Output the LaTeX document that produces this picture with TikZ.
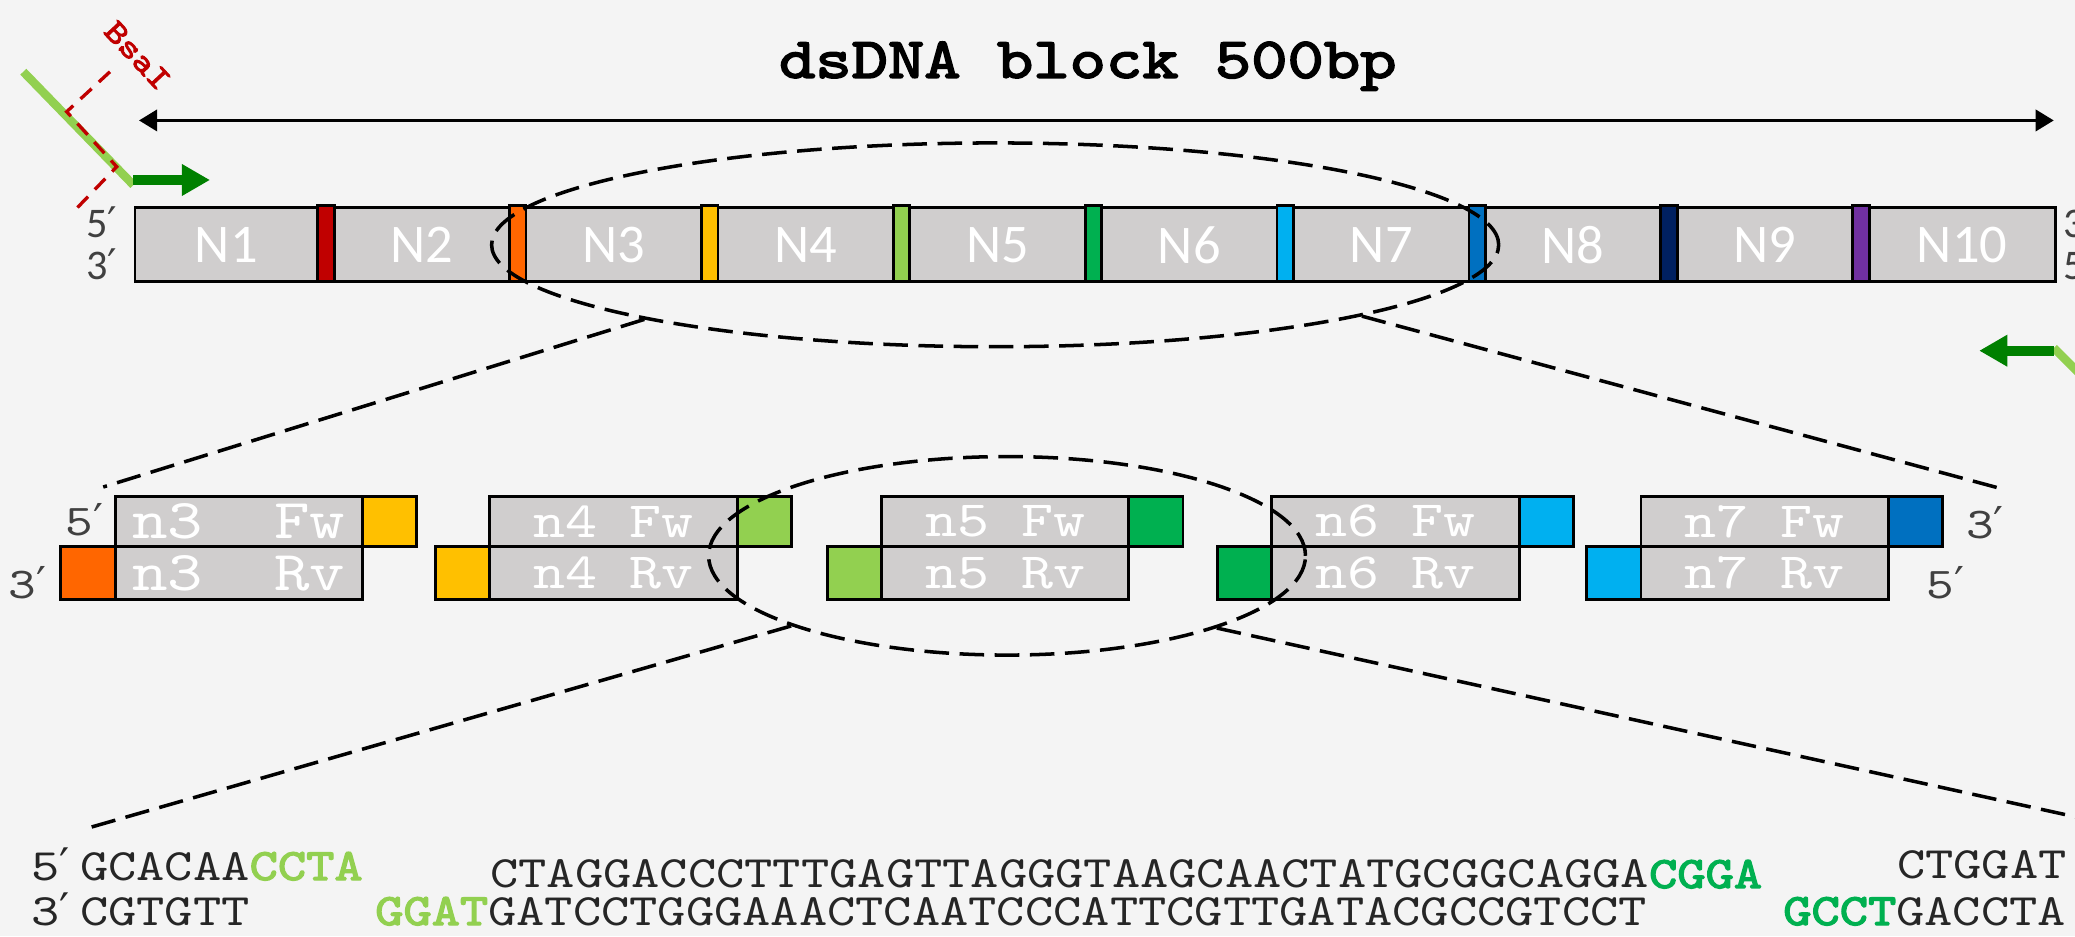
\documentclass[tikz,border=0pt]{standalone}
\usepackage{fontspec}
\setmainfont{Carlito}
\newfontfamily\monof{lmmono10-regular}[Extension=.otf,FakeStretch=1.2,BoldFont=lmmono10-regular,BoldFeatures={FakeBold=3}]
\newfontfamily\primefont{DejaVu Sans}
\newcommand\prm{{\primefont ′}}
\usetikzlibrary{arrows.meta,shapes.geometric}
\definecolor{bg}{HTML}{F4F4F4}
\definecolor{cell}{HTML}{D0CECE}
\definecolor{cred}{HTML}{C00000}
\definecolor{corange}{HTML}{FF6600}
\definecolor{cyellow}{HTML}{FFC000}
\definecolor{clgreen}{HTML}{92D050}
\definecolor{cgreen}{HTML}{00B050}
\definecolor{clblue}{HTML}{00B0F0}
\definecolor{cblue}{HTML}{0070C0}
\definecolor{cnavy}{HTML}{002060}
\definecolor{cpurple}{HTML}{7030A0}
\definecolor{dgreen}{HTML}{008000}
\definecolor{labgray}{HTML}{404040}
\definecolor{seqtxt}{HTML}{262626}
\newlength\ul
\setlength\ul{0.3764pt}
\begin{document}
\begin{tikzpicture}[x=0.3764pt,y=-0.3764pt,
  seg/.style={draw=black,line width=0.8pt,fill=cell,inner sep=0pt,minimum height=56*\ul,text=white,font=\fontsize{15.5}{18}\selectfont},
  sepbar/.style={draw=black,line width=0.8pt,inner sep=0pt,minimum width=12.5*\ul,minimum height=58*\ul},
  obox/.style={draw=black,line width=0.8pt,fill=cell,inner sep=0pt,minimum width=187*\ul,text=white,font=\monof\fontsize{14.45}{17}\selectfont},
  osq/.style={draw=black,line width=0.8pt,inner sep=0pt,minimum width=41*\ul},
  zoomell/.style={draw=black,ellipse,line width=1pt,dash pattern=on 7pt off 3pt,inner sep=0pt},
  zoomline/.style={draw=black,line width=1pt,dash pattern=on 7pt off 3pt},
  endlab/.style={text=labgray,font=\fontsize{12}{14}\selectfont,inner sep=0pt},
  monolab/.style={text=labgray,font=\monof\fontsize{12.5}{15}\selectfont,inner sep=0pt},
  seq/.style={text=seqtxt,font=\monof\fontsize{12.76}{15}\selectfont,inner sep=0pt,anchor=base west},
  lgline/.style={draw=clgreen,line width=2.4pt},
  garrow/.style={draw=dgreen,line width=2.8pt,-{Triangle[length=8pt,width=8.5pt]}},
  cutline/.style={draw=cred,line width=0.95pt,dash pattern=on 4.3pt off 2.8pt},
]
\fill[bg] (0,0) rectangle (1568,707.3);
\useasboundingbox (0,0) rectangle (1568,707.3);
\clip (0,0) rectangle (1568,707.3);

% title and length arrow
\node[font=\monof\bfseries\fontsize{16.4}{20}\selectfont,inner sep=0pt] (title) at (822,50) {dsDNA block 500bp};
\coordinate (aL) at (105,91);
\coordinate (aR) at (1552,91);
\draw[line width=1.1pt,{Triangle[length=5.2pt,width=6pt]}-{Triangle[length=5.2pt,width=6pt]}] (aL) -- (aR);

% main bar
\node[seg,minimum width=138*\ul] (N1) at (171,185) {N1};
\foreach \i in {2,...,9} {
  \node[seg,minimum width=132.5*\ul] (N\i) at ({318.75+145*(\i-2)},185) {N\i};
}
\node[seg,minimum width=140.5*\ul] (N10) at (1482.75,185) {N10};
\foreach \i/\c in {1/cred,2/corange,3/cyellow,4/clgreen,5/cgreen,6/clblue,7/cblue,8/cnavy,9/cpurple} {
  \node[sepbar,fill=\c] (B\i) at ({246.25+145*(\i-1)},184) {};
}
\node[endlab] (l5) at (77,168) {5\prm};
\node[endlab] (l3) at (77,200) {3\prm};
\node[endlab,anchor=west] (r3) at (1559,168) {3\prm};
\node[endlab,anchor=west] (r5) at (1559,200) {5\prm};

% left primer with BsaI site
\coordinate (p1a) at (17.6,54.2);
\coordinate (p1b) at (100.8,139.8);
\draw[lgline] (p1a) -- (p1b);
\coordinate (p1c) at (100.8,136);
\coordinate (p1d) at (158.7,136);
\draw[garrow] (p1c) -- (p1d);
\draw[cutline] (83.1,54.2) -- (50.4,84.4) -- (88.2,126) -- (58,157.4);
\node[rotate=-47,text=cred,font=\monof\bfseries\fontsize{9.2}{11}\selectfont,inner sep=0pt] (bsai) at (104,42) {BsaI};

% right primer
\coordinate (p2a) at (1552,263);
\coordinate (p2b) at (1600,311);
\draw[lgline] (p2a) -- (p2b);
\coordinate (p2c) at (1552,265);
\coordinate (p2d) at (1495.6,265);
\draw[garrow] (p2c) -- (p2d);

% oligo row
\foreach \k/\L/\cf/\cr/\fs/\sp in {3/87/cyellow/corange/16/~~,4/370/clgreen/cyellow/14.45/~,5/666/cgreen/clgreen/14.45/~,6/961/clblue/cgreen/14.45/~,7/1240/cblue/clblue/14.45/~} {
  \node[obox,minimum height=38*\ul,font=\monof\fontsize{\fs}{17}\selectfont] (fw\k) at ({\L+93.5},394) {n\k\sp Fw};
  \node[osq,minimum height=38*\ul,fill=\cf] (fs\k) at ({\L+207.5},394) {};
  \node[obox,minimum height=40*\ul,font=\monof\fontsize{\fs}{17}\selectfont] (rv\k) at ({\L+93.5},433) {n\k\sp Rv};
  \node[osq,minimum height=40*\ul,fill=\cr] (rs\k) at ({\L-20.5},433) {};
}
\node[monolab] (m5) at (64,393) {5\prm};
\node[monolab] (m3) at (21,440) {3\prm};
\node[monolab] (m3r) at (1500,395) {3\prm};
\node[monolab] (m5r) at (1470,440) {5\prm};

% zoom ellipses and lines
\node[zoomell,minimum width=761*\ul,minimum height=154*\ul] (E1) at (752,185) {};
\coordinate (z1) at (78,368);
\coordinate (z2) at (1515,370);
\draw[zoomline] (E1.192) -- (z1);
\draw[zoomline] (E1.349) -- (z2);

\node[zoomell,minimum width=451*\ul,minimum height=150*\ul] (E2) at (761,420) {};
\coordinate (z3) at (62,627);
\coordinate (z4) at (1590,622);
\draw[zoomline] (E2.198) -- (z3);
\draw[zoomline] (E2.341) -- (z4);

% sequences
\node[seq] (s5) at (23,665) {5\prm};
\node[seq] (sL1) at (60,665) {GCACAA\textcolor{clgreen}{\bfseries CCTA}};
\node[seq] (s3) at (23,699) {3\prm};
\node[seq] (sL2) at (60,699) {CGTGTT};
\node[seq] (sM1) at (370,671) {CTAGGACCCTTTGAGTTAGGGTAAGCAACTATGCGGCAGGA\textcolor{cgreen}{\bfseries CGGA}};
\node[seq] (sM2) at (283,699) {\textcolor{clgreen}{\bfseries GGAT}GATCCTGGGAAACTCAATCCCATTCGTTGATACGCCGTCCT};
\node[seq] (sR1) at (1433,664) {CTGGAT};
\node[seq] (sR2) at (1347,699) {\textcolor{cgreen}{\bfseries GCCT}GACCTA};
\end{tikzpicture}
\end{document}
